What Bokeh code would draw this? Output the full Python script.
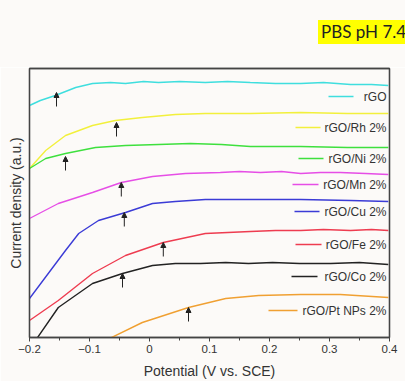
from bokeh.plotting import figure
from bokeh.models import (Range1d, Arrow, NormalHead, ColumnDataSource, FixedTicker,
                          BasicTickFormatter, LinearAxis, Div)
from bokeh.layouts import column
from bokeh.core.properties import value
from bokeh.embed import file_html
from bokeh.resources import INLINE

# ---------------- data (potential in V vs. SCE, current in a.u.) ----------------
x_ticks = [-0.2, -0.1, 0.0, 0.1, 0.2, 0.3, 0.4]
x_minor = [-0.2, -0.15, -0.1, -0.05, 0.0, 0.05, 0.1, 0.15, 0.2, 0.25, 0.3, 0.35, 0.4]

names = ["rGO", "rGO/Rh 2%", "rGO/Ni 2%", "rGO/Mn 2%", "rGO/Cu 2%", "rGO/Fe 2%", "rGO/Co 2%", "rGO/Pt NPs 2%"]
colors = ["#3fdede", "#f2f03c", "#3ee03e", "#e64ee6", "#3b3bd6", "#ee3c50", "#222222", "#f0a032"]
tag_text = "PBS pH 7.4"

rgo_v = [-0.200, -0.182, -0.157, -0.123, -0.095, -0.065, -0.040, -0.010, 0.015, 0.050, 0.093, 0.130, 0.168, 0.210, 0.252, 0.290, 0.335, 0.370, 0.398]
rgo_i = [232, 237, 242, 250, 254, 255, 254, 256, 255, 256, 255, 256, 255, 254, 254, 255, 253, 253, 252]

rh_v = [-0.200, -0.173, -0.140, -0.095, -0.057, -0.012, 0.043, 0.093, 0.168, 0.252, 0.330, 0.398]
rh_i = [169, 187, 202, 212, 217, 220, 223, 224, 224, 225, 224, 224]

ni_v = [-0.200, -0.173, -0.140, -0.090, -0.040, 0.015, 0.068, 0.120, 0.168, 0.252, 0.330, 0.398]
ni_i = [169, 179, 184, 190, 192, 193, 194, 193, 191, 191, 190, 190]

mn_v = [-0.200, -0.152, -0.095, -0.047, 0.005, 0.060, 0.118, 0.150, 0.185, 0.220, 0.252, 0.285, 0.318, 0.360, 0.398]
mn_i = [119, 134, 145, 155, 161, 164, 165, 166, 165, 166, 164, 165, 165, 164, 163]

cu_v = [-0.200, -0.165, -0.140, -0.118, -0.085, -0.040, 0.005, 0.043, 0.093, 0.168, 0.252, 0.335, 0.398]
cu_i = [39, 67, 87, 104, 117, 125, 134, 136, 138, 138, 138, 137, 136]

fe_v = [-0.200, -0.152, -0.095, -0.040, 0.023, 0.093, 0.168, 0.210, 0.252, 0.290, 0.335, 0.370, 0.398]
fe_i = [17, 37, 64, 82, 95, 104, 106, 107, 107, 108, 107, 108, 107]

co_v = [-0.190, -0.152, -0.095, -0.045, 0.005, 0.043, 0.085, 0.127, 0.165, 0.205, 0.250, 0.302, 0.350, 0.398]
co_i = [-3, 30, 54, 64, 72, 74, 74, 75, 74, 75, 74, 74, 75, 73]

pt_v = [-0.070, -0.012, 0.065, 0.127, 0.182, 0.252, 0.318, 0.398]
pt_i = [-2, 15, 30, 39, 42, 43, 43, 40]

series_v = [rgo_v, rh_v, ni_v, mn_v, cu_v, fe_v, co_v, pt_v]
series_i = [rgo_i, rh_i, ni_i, mn_i, cu_i, fe_i, co_i, pt_i]

# onset arrows (potential, current at arrow head)
onset_v = [-0.155, -0.055, -0.140, -0.047, -0.042, 0.023, -0.045, 0.065]
onset_i = [245, 215, 181, 155, 125, 95, 64, 30]

# ---------------- layout constants (page pixels) ----------------
W, H = 405, 381
HEAD = 67                                   # height of the strip above the figure
PL, PR, PT, PB = 29, 389, 68, 337           # frame edges on the page
X0, X1 = -0.2, 0.4
Y0, Y1 = 0, 269


def px_x(px):  # page px -> data x
    return X0 + (px - PL) / (PR - PL) * (X1 - X0)


def px_y(py):  # page px -> data y
    return Y0 + (PB - py) / (PB - PT) * (Y1 - Y0)


bg = "#fcfaf8"
edge = "#444444"
FH = H - HEAD
p = figure(width=W, height=FH, output_backend="svg", toolbar_location=None, title_location=None,
           x_range=Range1d(X0, X1), y_range=Range1d(Y0, Y1),
           min_border_left=PL, min_border_right=W - PR, min_border_top=PT - HEAD,
           min_border_bottom=H - PB,
           background_fill_color=bg, border_fill_color=bg)
p.grid.visible = False
p.outline_line_color = edge
p.outline_line_width = 1.3

# x axis
p.xaxis.ticker = FixedTicker(ticks=x_ticks, minor_ticks=x_minor)
p.xaxis.formatter = BasicTickFormatter(precision=1)
p.xaxis.axis_label = "Potential (V vs. SCE)"
p.xaxis.axis_label_text_font = "Liberation Sans"
p.xaxis.axis_label_text_font_style = "normal"
p.xaxis.axis_label_text_font_size = "14px"
p.xaxis.axis_label_text_color = "#333333"
p.xaxis.axis_label_standoff = 7
p.xaxis.major_label_text_font = "Liberation Sans"
p.xaxis.major_label_text_font_size = "11.5px"
p.xaxis.major_label_text_color = "#333333"
p.xaxis.major_label_standoff = 3
p.xaxis.major_tick_in = 0
p.xaxis.major_tick_out = 4
p.xaxis.minor_tick_in = 0
p.xaxis.minor_tick_out = 3
p.xaxis.axis_line_color = edge
p.xaxis.axis_line_width = 1.3
p.xaxis.major_tick_line_color = edge
p.xaxis.minor_tick_line_color = edge

# y axis: label only
p.yaxis.ticker = FixedTicker(ticks=[])
p.yaxis.major_label_text_font_size = "0px"
p.yaxis.major_tick_out = 0
p.yaxis.major_tick_in = 0
p.yaxis.minor_tick_out = 0
p.yaxis.minor_tick_in = 0
p.yaxis.major_label_standoff = 0
p.yaxis.axis_line_color = edge
p.yaxis.axis_line_width = 1.3
p.yaxis.axis_label = "Current density (a.u.)"
p.yaxis.axis_label_text_font = "Liberation Sans"
p.yaxis.axis_label_text_font_style = "normal"
p.yaxis.axis_label_text_font_size = "14px"
p.yaxis.axis_label_text_color = "#333333"
p.yaxis.axis_label_standoff = 6

# closing lines of the frame box (right and top)
for loc in ("right", "above"):
    ax = LinearAxis(ticker=FixedTicker(ticks=[]), major_label_text_font_size="0px",
                    major_tick_out=0, major_tick_in=0, minor_tick_out=0, minor_tick_in=0,
                    major_label_standoff=0, axis_line_color=edge, axis_line_width=1.3)
    p.add_layout(ax, loc)

# curves
for v, i, c in zip(series_v, series_i, colors):
    p.line(v, i, line_color=c, line_width=1.4)

# onset arrows
tail = 14
src = ColumnDataSource(dict(x=onset_v, y0=[y - tail for y in onset_i], y1=onset_i))
p.add_layout(Arrow(source=src, x_start="x", y_start="y0", x_end="x", y_end="y1",
                   line_color="#222222", line_width=1,
                   end=NormalHead(size=5, fill_color="#222222", line_color="#222222")))

# legend (right aligned text with a short line before it)
leg_py = [96, 127, 158, 184, 211, 244, 276, 310]
leg_line_px = [(328, 353), (295, 320), (298, 323), (292, 318), (294, 319), (295, 321), (291, 317), (268, 297)]
text_right = px_x(386)
p.segment(x0=[px_x(a) for a, b in leg_line_px], x1=[px_x(b) for a, b in leg_line_px],
          y0=[px_y(y) for y in leg_py], y1=[px_y(y) for y in leg_py],
          line_color=colors, line_width=1.6)
p.text(x=[text_right] * len(names), y=[px_y(y) for y in leg_py], text=names,
       text_align="right", text_baseline="middle", text_font=value("Liberation Sans"),
       text_font_size="12px", text_color="#333333")

# "PBS pH 7.4" tag in a strip above the figure
tag = Div(text=f'<div style="position:absolute; left:318px; top:20px; height:24px; line-height:24px; '
               f'padding:0 3px; background:#ffff00; color:#222222; font-family:Lato; '
               f'font-size:17px; white-space:nowrap;">{tag_text}</div>',
          width=W, height=HEAD, styles={"background-color": bg, "overflow": "hidden", "margin": "0"})

layout = column(tag, p, spacing=0)
open("out.html", "w").write(file_html(layout, INLINE))
